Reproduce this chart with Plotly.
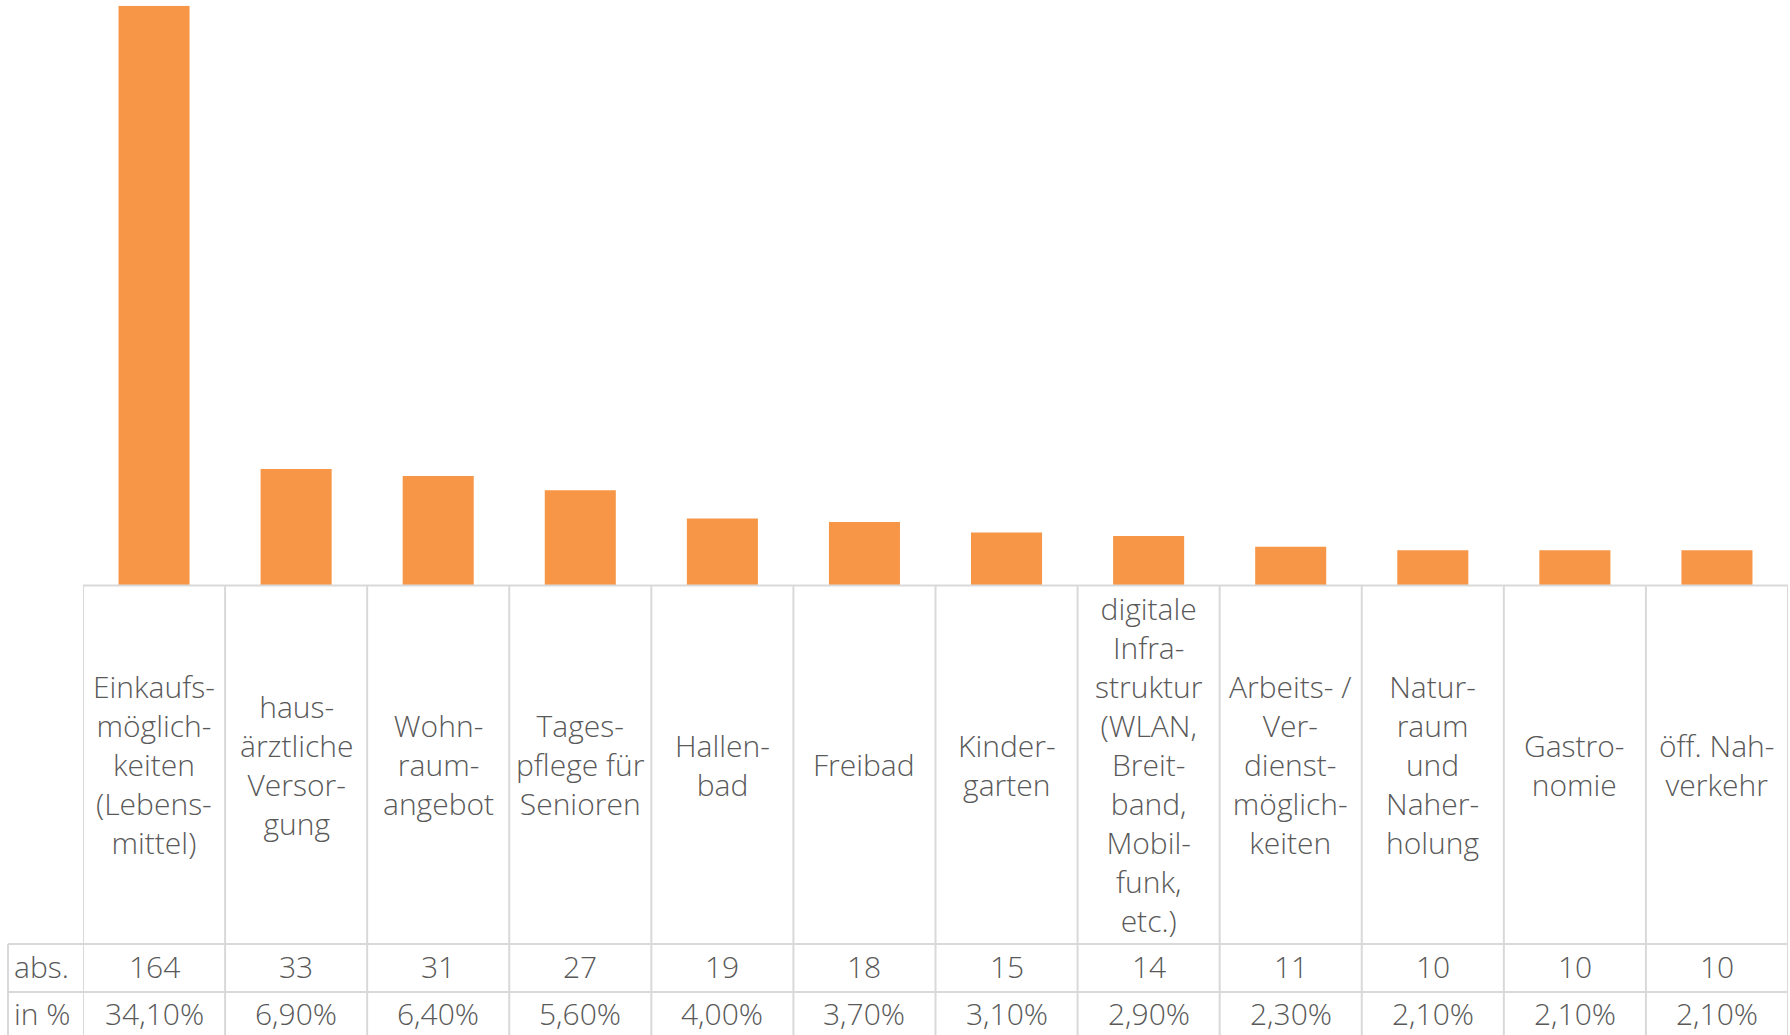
import plotly.graph_objects as go

categories = [
    "Einkaufs-<br>möglich-<br>keiten<br>(Lebens-<br>mittel)",
    "haus-<br>ärztliche<br>Versor-<br>gung",
    "Wohn-<br>raum-<br>angebot",
    "Tages-<br>pflege für<br>Senioren",
    "Hallen-<br>bad",
    "Freibad",
    "Kinder-<br>garten",
    "digitale<br>Infra-<br>struktur<br>(WLAN,<br>Breit-<br>band,<br>Mobil-<br>funk,<br>etc.)",
    "Arbeits- /<br>Ver-<br>dienst-<br>möglich-<br>keiten",
    "Natur-<br>raum<br>und<br>Naher-<br>holung",
    "Gastro-<br>nomie",
    "öff. Nah-<br>verkehr",
]
abs_values = [164, 33, 31, 27, 19, 18, 15, 14, 11, 10, 10, 10]
pct_labels = ["34,10%", "6,90%", "6,40%", "5,60%", "4,00%", "3,70%", "3,10%",
              "2,90%", "2,30%", "2,10%", "2,10%", "2,10%"]
row_labels = ["abs.", "in %"]

W, H = 1790, 1035
BAR_COLOR = "#F79646"
TEXT_COLOR = "#595959"
GRID_COLOR = "#D9D9D9"
FONT = "Open Sans"
FS = 30

# pixel layout
x_left_col = 8
x_plot_l = 83
x_plot_r = 1788
y_plot_top = 5.7
y_base = 585.6
y_row1 = 944
y_row2 = 992
y_bottom = 1035

def py(p):
    return 1 - p / H

def px(p):
    return p / W

xs = list(range(len(categories)))

fig = go.Figure()
fig.add_trace(go.Bar(x=xs, y=abs_values, marker_color=BAR_COLOR,
                     marker_line_width=0, width=0.5, hoverinfo="skip"))

shapes = []
line = dict(color=GRID_COLOR, width=2)
shapes.append(dict(type="line", xref="paper", yref="paper",
                   x0=px(x_plot_l), x1=px(x_plot_r), y0=py(y_base), y1=py(y_base), line=line))
for yy in (y_row1, y_row2):
    shapes.append(dict(type="line", xref="paper", yref="paper",
                       x0=px(x_left_col), x1=px(x_plot_r), y0=py(yy), y1=py(yy), line=line))
shapes.append(dict(type="line", xref="paper", yref="paper",
                   x0=px(x_left_col), x1=px(x_left_col), y0=py(y_row1), y1=py(y_bottom), line=line))
for k in range(len(categories) + 1):
    shapes.append(dict(type="line", xref="x", yref="paper",
                       x0=k - 0.5, x1=k - 0.5, y0=py(y_base), y1=py(y_bottom), line=line))

annotations = []
font = dict(family=FONT, size=FS, color=TEXT_COLOR, weight=300)
for i, c in enumerate(categories):
    annotations.append(dict(x=i, y=py((y_base + y_row1) / 2), xref="x", yref="paper",
                            text=c, showarrow=False, font=font, align="center",
                            xanchor="center", yanchor="middle"))
    annotations.append(dict(x=i, y=py(966), xref="x", yref="paper",
                            text=str(abs_values[i]), showarrow=False, font=font,
                            xanchor="center", yanchor="middle"))
    annotations.append(dict(x=i, y=py(1013), xref="x", yref="paper",
                            text=pct_labels[i], showarrow=False, font=font,
                            xanchor="center", yanchor="middle"))
annotations.append(dict(x=px(12), y=py(966), xref="paper", yref="paper",
                        text=row_labels[0], showarrow=False, font=font,
                        xanchor="left", yanchor="middle"))
annotations.append(dict(x=px(12), y=py(1013), xref="paper", yref="paper",
                        text=row_labels[1], showarrow=False, font=font,
                        xanchor="left", yanchor="middle"))

fig.update_layout(
    width=W, height=H,
    margin=dict(l=0, r=0, t=0, b=0),
    paper_bgcolor="white", plot_bgcolor="white",
    showlegend=False,
    xaxis=dict(domain=[px(x_plot_l), px(x_plot_r)], range=[-0.5, len(categories) - 0.5],
               showticklabels=False, showgrid=False, zeroline=False, showline=False, ticks=""),
    yaxis=dict(domain=[py(y_base), py(y_plot_top)], range=[0, 164],
               showticklabels=False, showgrid=False, zeroline=False, showline=False, ticks=""),
    shapes=shapes,
    annotations=annotations,
)

fig.write_html("out.html", config={"displayModeBar": False},
               post_script="document.body.style.margin='0';document.body.style.overflow='hidden';")
